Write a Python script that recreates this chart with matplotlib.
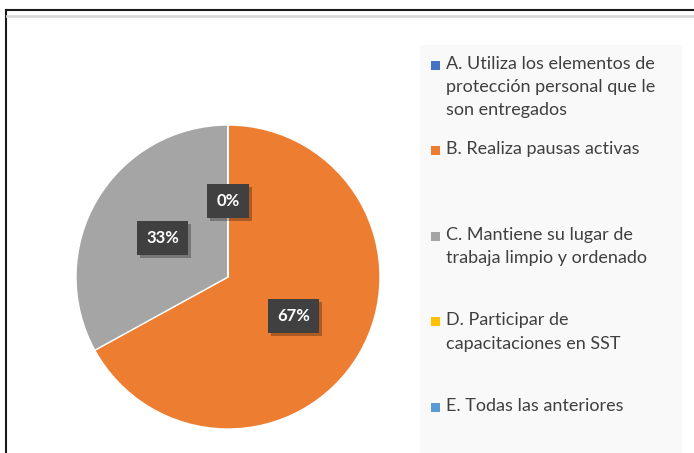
import matplotlib
matplotlib.use("Agg")
from matplotlib import pyplot as plt
from matplotlib.patches import Rectangle
from matplotlib.lines import Line2D
from matplotlib.transforms import IdentityTransform

plt.rcParams['font.family'] = ['Lato', 'DejaVu Sans']

# datos de la encuesta
categorias = [
    "A. Utiliza los elementos de\nprotección personal que le\nson entregados",
    "B. Realiza pausas activas",
    "C. Mantiene su lugar de\ntrabaja limpio y ordenado",
    "D. Participar de\ncapacitaciones en SST",
    "E. Todas las anteriores",
]
porcentajes = [0, 67, 33, 0, 0]
colores = ["#4472C4", "#ED7D31", "#A5A5A5", "#FFC000", "#5B9BD5"]

W, H = 694, 453
fig = plt.figure(figsize=(W / 100, H / 100), dpi=100)


def fx(px):
    return px / W


def fy(py):
    return 1 - py / H


# marco exterior
fig.add_artist(Line2D([fx(6), 1], [fy(10), fy(10)], color="#1a1a1a", lw=1.5))
fig.add_artist(Line2D([fx(6), fx(6)], [fy(10), 0], color="#1a1a1a", lw=1.5))
fig.add_artist(Line2D([fx(7), 1], [fy(16), fy(16)], color="#d9d9d9", lw=2))

# fondo de la leyenda
fig.add_artist(Rectangle((fx(420), 0), fx(682) - fx(420), fy(45),
                         facecolor="#f9f9f9", edgecolor="none", zorder=0))

# torta
cx, cy, r = 228, 277, 152
ax = fig.add_axes([fx(cx - r), fy(cy + r), 2 * r / W, 2 * r / H])
wedges, textos, autotextos = ax.pie(
    porcentajes, colors=colores, startangle=90, counterclock=False,
    autopct=lambda p: f"{p:.0f}%", pctdistance=0.5,
    wedgeprops=dict(linewidth=1, edgecolor="white"),
)
ax.set_xlim(-1, 1)
ax.set_ylim(-1, 1)

for i, t in enumerate(autotextos):
    if i >= 3:
        t.set_visible(False)
        continue
    t.set_color("white")
    t.set_fontweight("bold")
    t.set_fontsize(12)
    t.set_bbox(dict(boxstyle="square,pad=0.55", facecolor="#404040",
                    edgecolor="none"))
    t.set_zorder(5)

# sombra de las etiquetas
fig.canvas.draw()
for t in autotextos[:3]:
    bb = t.get_bbox_patch().get_window_extent()
    ax.add_artist(Rectangle((bb.x0 + 3, bb.y0 - 3), bb.width, bb.height,
                            transform=IdentityTransform(), facecolor="black",
                            alpha=0.28, edgecolor="none", zorder=4,
                            clip_on=False))

# leyenda manual
for i, (cat, col) in enumerate(zip(categorias, colores)):
    y0 = 65 + i * 85.5
    fig.add_artist(Rectangle((fx(431), fy(y0 + 4.5)), 9 / W, 9 / H,
                             facecolor=col, edgecolor="none"))
    fig.text(fx(446), fy(y0 - 9), cat, ha="left", va="top", fontsize=13,
             color="#404040", linespacing=1.55)

fig.savefig("out.png", dpi=100)
